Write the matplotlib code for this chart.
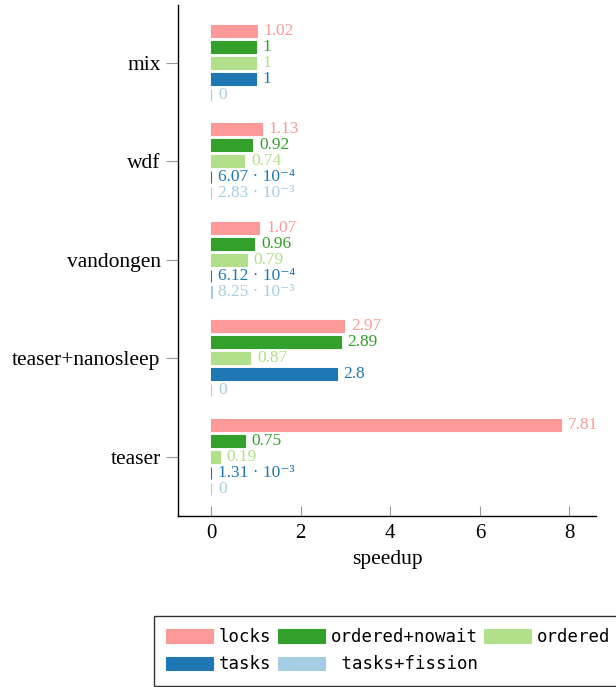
import matplotlib.pyplot as plt
import numpy as np

plt.rcParams['font.family'] = ['Liberation Serif', 'DejaVu Serif']

benchmarks = ['teaser', 'teaser+nanosleep', 'vandongen', 'wdf', 'mix']
series = ['locks', 'ordered+nowait', 'ordered', 'tasks', 'tasks+fission']
colors = ['#fb9a99', '#33a02c', '#b2df8a', '#1f78b4', '#a6cee3']

locks = [7.81, 2.97, 1.07, 1.13, 1.02]
ordered_nowait = [0.75, 2.89, 0.96, 0.92, 1]
ordered = [0.19, 0.87, 0.79, 0.74, 1]
tasks = [1.31e-3, 2.8, 6.12e-4, 6.07e-4, 1]
tasks_fission = [0, 0, 8.25e-3, 2.83e-3, 0]

labels_locks = ['7.81', '2.97', '1.07', '1.13', '1.02']
labels_ordered_nowait = ['0.75', '2.89', '0.96', '0.92', '1']
labels_ordered = ['0.19', '0.87', '0.79', '0.74', '1']
labels_tasks = ['1.31 · 10⁻³', '2.8', '6.12 · 10⁻⁴', '6.07 · 10⁻⁴', '1']
labels_tasks_fission = ['0', '0', '8.25 · 10⁻³', '2.83 · 10⁻³', '0']

all_values = [locks, ordered_nowait, ordered, tasks, tasks_fission]
all_labels = [labels_locks, labels_ordered_nowait, labels_ordered, labels_tasks, labels_tasks_fission]

fig = plt.figure(figsize=(6.16, 6.87), dpi=100)
ax = fig.add_axes([0.289, 0.249, 0.679, 0.744])

y = np.arange(len(benchmarks))
step = 0.1625
height = 0.122
handles = []
for i, (name, vals, labs, col) in enumerate(zip(series, all_values, all_labels, colors)):
    pos = y + (2 - i) * step
    b = ax.barh(pos, vals, height=height, color=col, edgecolor=col, linewidth=0.8, label=name)
    handles.append(b)
    for p, v, t in zip(pos, vals, labs):
        ax.annotate(t, xy=(v, p), xytext=(5, 0), textcoords='offset points',
                    va='center', ha='left', color=col, fontsize=12.5)

ax.set_xlim(-0.74, 8.6)
ax.set_ylim(-0.6, 4.59)
ax.set_yticks(y)
ax.set_yticklabels(benchmarks, fontsize=15.5)
ax.set_xticks([0, 2, 4, 6, 8])
ax.tick_params(axis='x', direction='in', length=7, color='#999999', labelsize=15, pad=6)
ax.tick_params(axis='y', direction='out', length=8.5, color='#999999', pad=4)
ax.set_xlabel('speedup', fontsize=15.5, labelpad=5)
for s in ['top', 'right']:
    ax.spines[s].set_visible(False)
for s in ['left', 'bottom']:
    ax.spines[s].set_linewidth(1.0)

order = [0, 3, 1, 4, 2]
leg_labels = ['locks', 'ordered+nowait', 'ordered', 'tasks', ' tasks+fission']
fig.legend([handles[k] for k in order], [leg_labels[k] for k in order], ncol=3,
           loc='lower left', bbox_to_anchor=(0.25, 0.002), borderaxespad=0,
           prop={'family': 'DejaVu Sans Mono', 'size': 12.5},
           frameon=True, fancybox=False, edgecolor='#333333', framealpha=1,
           handlelength=2.7, handleheight=0.85, handletextpad=0.35, columnspacing=0.35,
           labelspacing=0.55, borderpad=0.7)

plt.savefig('out.png', dpi=100)
